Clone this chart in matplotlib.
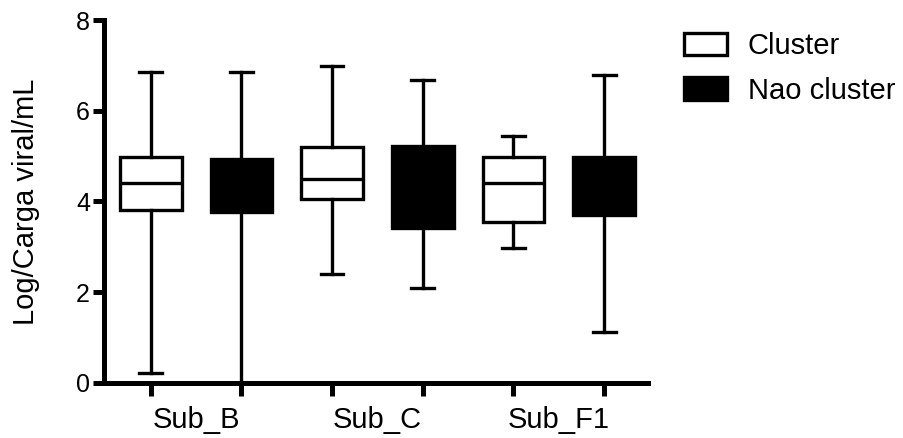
import numpy as np
import matplotlib
matplotlib.use('Agg')
import matplotlib.pyplot as plt
from matplotlib.patches import Patch

matplotlib.rc('font', family=['Liberation Sans', 'DejaVu Sans'])

groups = ['Sub_B', 'Sub_C', 'Sub_F1']
series = ['Cluster', 'Nao cluster']
# order: Sub_B cluster, Sub_B nao, Sub_C cluster, Sub_C nao, Sub_F1 cluster, Sub_F1 nao
whis_lo = [0.21, 0.0, 2.39, 2.09, 2.98, 1.12]
q1s = [3.81, 3.77, 4.05, 3.41, 3.55, 3.70]
meds = [4.40, 4.35, 4.49, 4.30, 4.41, 4.40]
q3s = [4.99, 4.93, 5.20, 5.23, 4.99, 4.99]
whis_hi = [6.86, 6.86, 6.98, 6.67, 5.45, 6.78]

stats = []
for i in range(len(q1s)):
    stats.append(dict(whislo=whis_lo[i], q1=q1s[i], med=meds[i],
                      q3=q3s[i], whishi=whis_hi[i], fliers=[]))

pos = np.arange(1, len(stats) + 1)
lw = 2.4

fig = plt.figure(figsize=(9.04, 4.38), dpi=100)
ax = fig.add_axes([0.115, 0.126, 0.602, 0.828])

bp = ax.bxp(stats, positions=pos, widths=0.68, patch_artist=True,
            showfliers=False,
            boxprops=dict(linewidth=lw, edgecolor='k'),
            whiskerprops=dict(linewidth=lw, color='k'),
            capprops=dict(linewidth=lw, color='k'),
            medianprops=dict(linewidth=lw, color='k'),
            capwidths=0.25)
for i, b in enumerate(bp['boxes']):
    b.set_facecolor('white' if i % 2 == 0 else 'black')
    b.set_joinstyle('miter')

ax.set_xlim(0.485, 6.485)
ax.set_ylim(0, 8)
ax.set_yticks([0, 2, 4, 6, 8])
ax.set_xticks(pos, labels=[''] * len(pos))
ax.set_xticks([1.5, 3.5, 5.5], labels=groups, minor=True)
ax.tick_params(axis='x', which='minor', length=0, pad=17, labelsize=21)
ax.tick_params(axis='x', which='major', length=9, width=3.6)
ax.tick_params(axis='y', length=8, width=3.6, pad=2, labelsize=18)
ax.set_ylabel('Log/Carga viral/mL', fontsize=21, labelpad=26)

for s in ['top', 'right']:
    ax.spines[s].set_visible(False)
for s in ['left', 'bottom']:
    ax.spines[s].set_linewidth(3.6)

handles = [Patch(facecolor='white', edgecolor='k', linewidth=lw),
           Patch(facecolor='black', edgecolor='k', linewidth=lw)]
fig.legend(handles, series, loc='upper left', bbox_to_anchor=(0.757, 0.926),
           frameon=False, fontsize=21, handlelength=1.47, handleheight=0.8,
           handletextpad=0.7, labelspacing=0.56, borderpad=0, borderaxespad=0)

fig.savefig('out.png', dpi=100)
